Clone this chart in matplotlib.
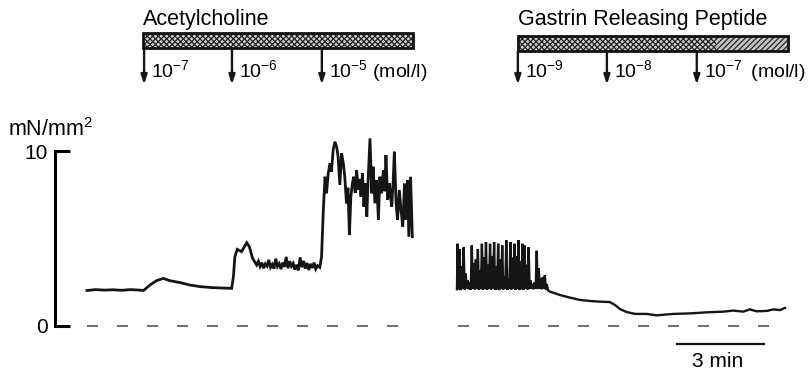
import matplotlib
matplotlib.use("Agg")
import matplotlib.pyplot as plt
from matplotlib.patches import Rectangle
import numpy as np

plt.rcParams['font.family'] = ['Liberation Sans', 'DejaVu Sans']
plt.rcParams['mathtext.fontset'] = 'custom'
plt.rcParams['mathtext.rm'] = 'Liberation Sans'
plt.rcParams['hatch.linewidth'] = 0.9

# time in min, tension in mN/mm2
# acetylcholine trace
ach_t = [0.00, 0.30, 0.60, 0.90, 1.20, 1.50, 1.80, 1.95, 2.17, 2.40, 2.63, 2.86, 3.21, 3.55, 3.90,
         4.35, 4.99, 5.05, 5.10, 5.18, 5.33, 5.51, 5.60, 5.71, 5.85,
         5.91, 5.97, 6.03, 6.09, 6.15, 6.21, 6.27, 6.33, 6.39, 6.45, 6.51, 6.57, 6.63, 6.69, 6.75,
         6.81, 6.87, 6.93, 6.99, 7.05, 7.11, 7.17, 7.23, 7.29, 7.35, 7.41, 7.47, 7.53, 7.59, 7.65,
         7.71, 7.77, 7.83, 7.89, 7.95, 8.03, 8.09, 8.15,
         8.21, 8.26, 8.32, 8.38, 8.43, 8.49, 8.55, 8.61, 8.66, 8.72, 8.78, 8.84, 8.89, 8.95, 9.00,
         9.05, 9.10, 9.15, 9.20, 9.25, 9.30, 9.35, 9.40, 9.45, 9.50, 9.55, 9.60, 9.65, 9.70, 9.76,
         9.82, 9.87, 9.93, 9.99, 10.05, 10.10, 10.16, 10.22, 10.27, 10.31, 10.37, 10.43, 10.47,
         10.51, 10.56, 10.60, 10.66, 10.71, 10.77, 10.83, 10.89, 10.95, 11.00, 11.05, 11.10, 11.16, 11.22]
ach_v = [2.03, 2.08, 2.05, 2.07, 2.04, 2.08, 2.05, 2.03, 2.34, 2.59, 2.72, 2.59, 2.48, 2.34, 2.25,
         2.19, 2.15, 2.82, 3.96, 4.38, 4.25, 4.76, 4.53, 3.87, 3.49,
         3.70, 3.40, 3.62, 3.30, 3.55, 3.42, 3.78, 3.35, 3.52, 3.28, 3.85, 3.40, 3.56, 3.25, 3.62,
         3.38, 3.95, 3.30, 3.70, 3.42, 3.58, 3.22, 3.50, 3.18, 3.92, 3.36, 3.72, 3.28, 3.60, 3.20,
         3.55, 3.32, 3.62, 3.26, 3.45, 3.35, 3.96, 6.63,
         8.53, 7.58, 8.72, 9.30, 8.82, 10.06, 10.53, 10.25, 9.68, 8.06, 9.87, 9.30, 8.53, 7.01, 7.90,
         5.20, 7.39, 8.10, 8.53, 7.60, 8.91, 7.80, 8.40, 7.39, 8.72, 6.82, 8.15, 6.25, 8.53, 10.72,
         7.58, 9.10, 7.01, 8.34, 6.06, 8.53, 7.58, 8.91, 7.70, 9.77, 7.20, 8.15, 7.40,
         6.82, 8.30, 9.96, 7.01, 6.06, 7.77, 6.63, 5.68, 8.15, 6.06, 8.34, 5.10, 8.53, 5.10]

# gastrin releasing peptide trace: phasic spikes, then tonic tail
grp_spike_t = [12.78, 12.85, 12.92, 12.99, 13.06, 13.13, 13.20, 13.27, 13.34, 13.41, 13.48, 13.55,
               13.62, 13.69, 13.76, 13.83, 13.90, 13.97, 14.04, 14.11, 14.18, 14.25, 14.32, 14.39,
               14.46, 14.53, 14.60, 14.67, 14.74, 14.81, 14.88, 14.95, 15.02, 15.09, 15.16, 15.23,
               15.30, 15.37, 15.44, 15.51, 15.58, 15.65, 15.72, 15.79, 15.86]
grp_spike_v = [4.70, 4.40, 3.40, 4.50, 3.00, 2.60, 2.50, 4.60, 3.60, 3.80, 4.40, 3.20,
               4.70, 3.90, 4.80, 3.50, 4.70, 4.00, 4.80, 3.40, 4.70, 3.80, 4.60, 2.80,
               4.90, 2.70, 4.80, 3.90, 4.70, 4.00, 4.90, 3.70, 4.70, 4.60, 3.50, 4.50,
               2.60, 2.40, 2.50, 4.30, 3.30, 2.70, 2.80, 2.90, 2.40]
grp_trough_v = [2.10, 2.05, 2.12, 2.08, 2.15, 2.10, 2.06, 2.12, 2.09, 2.14, 2.07, 2.11,
                2.08, 2.13, 2.06, 2.12, 2.09, 2.15, 2.07, 2.10, 2.05, 2.12, 2.08, 2.14,
                2.06, 2.11, 2.09, 2.13, 2.07, 2.12, 2.05, 2.10, 2.08, 2.14, 2.09, 2.11,
                2.12, 2.10, 2.14, 2.11, 2.13, 2.10, 2.12, 2.08, 2.05]
grp_tail_t = [15.97, 16.31, 16.66, 17.00, 17.34, 17.69, 18.03, 18.21, 18.38, 18.61, 18.90, 19.30,
              19.64, 20.22, 20.79, 21.37, 21.94, 22.29, 22.63, 22.86, 23.09, 23.44, 23.67, 23.90, 24.07]
grp_tail_v = [1.96, 1.77, 1.62, 1.49, 1.43, 1.39, 1.37, 1.20, 0.97, 0.80, 0.69, 0.69,
              0.61, 0.69, 0.72, 0.78, 0.82, 0.88, 0.82, 0.95, 0.84, 0.86, 0.95, 0.91, 1.03]

# drug applications
ach_doses = [1.97, 5.00, 8.10]
ach_labels = ['10^{-7}', '10^{-6}', '10^{-5}']
ach_span = (1.94, 11.25)
grp_doses = [14.86, 17.93, 21.03]
grp_labels = ['10^{-9}', '10^{-8}', '10^{-7}']
grp_span = (14.86, 24.17)

# build the grp trace from spikes and troughs
grp_t = [12.76]
grp_v = [2.10]
for i in range(len(grp_spike_t)):
    grp_t += [grp_spike_t[i], grp_spike_t[i] + 0.035]
    grp_v += [grp_spike_v[i], grp_trough_v[i]]
grp_t += grp_tail_t
grp_v += grp_tail_v

fig = plt.figure(figsize=(8.09, 3.73), dpi=100)
ax = fig.add_axes([0, 0, 1, 1])
ax.set_xlim(-3.0, 24.9)
ax.set_ylim(-2.686, 18.629)

for s in ['top', 'right', 'bottom']:
    ax.spines[s].set_visible(False)
ax.spines['left'].set_position(('data', -1.1))
ax.spines['left'].set_bounds(0, 10)
ax.spines['left'].set_linewidth(2.2)
ax.set_xticks([])
ax.set_yticks([0, 10])
ax.tick_params(axis='y', direction='in', length=11, width=2.2, labelsize=15, pad=5)
ax.patch.set_visible(False)

ax.text(-2.72, 10.86, r'mN/mm$^{\mathregular{2}}$', fontsize=15.5, ha='left', va='baseline')

# zero lines
ax.plot([0, ach_t[-1] + 0.02], [0, 0], color='#555555', lw=1.2, dashes=(6.6, 11.4))
ax.plot([12.8, grp_span[1]], [0, 0], color='#555555', lw=1.2, dashes=(6.6, 11.4))

ax.plot(ach_t, ach_v, color='#151515', lw=2.0, solid_joinstyle='miter')
ax.plot(grp_t, grp_v, color='#151515', lw=1.7, solid_joinstyle='miter')

# scale bar
ax.plot([20.35, 23.35], [-1.03, -1.03], color='#151515', lw=1.6)
ax.text(21.75, -2.34, '3 min', fontsize=15, ha='center', va='baseline')


def drug_bar(name, span, doses, labels, split=None, y0=15.9, y1=16.75):
    ax.text(span[0], 17.2, name, fontsize=15.5, ha='left', va='baseline')
    end = split if split else span[1]
    ax.add_patch(Rectangle((span[0], y0), end - span[0], y1 - y0, facecolor='#cfcfcf',
                           edgecolor='#222222', hatch='xxxxxx', lw=0))
    if split:
        ax.add_patch(Rectangle((split, y0), span[1] - split, y1 - y0, facecolor='#c4c4c4',
                               edgecolor='#222222', hatch='//////', lw=0))
    ax.add_patch(Rectangle((span[0], y0), span[1] - span[0], y1 - y0, fill=False,
                           edgecolor='#111111', lw=2.0))
    for d, lab in zip(doses, labels):
        ax.annotate('', xy=(d, 13.8), xytext=(d, y0),
                    arrowprops=dict(arrowstyle='-|>,head_length=0.55,head_width=0.18',
                                    lw=1.7, color='#151515', shrinkA=0, shrinkB=0))
    for i, (d, lab) in enumerate(zip(doses, labels)):
        txt = r'$\mathregular{' + lab + '}$'
        if i == len(doses) - 1:
            txt += ' (mol/l)' if split is None else r'$\,$ (mol/l)'
        ax.text(d + 0.24, 14.2, txt, fontsize=14, ha='left', va='baseline')


drug_bar('Acetylcholine', ach_span, ach_doses, ach_labels, y0=15.87, y1=16.72)
drug_bar('Gastrin Releasing Peptide', grp_span, grp_doses, grp_labels, split=21.7,
         y0=15.7, y1=16.55)

fig.savefig('out.png', dpi=100)
